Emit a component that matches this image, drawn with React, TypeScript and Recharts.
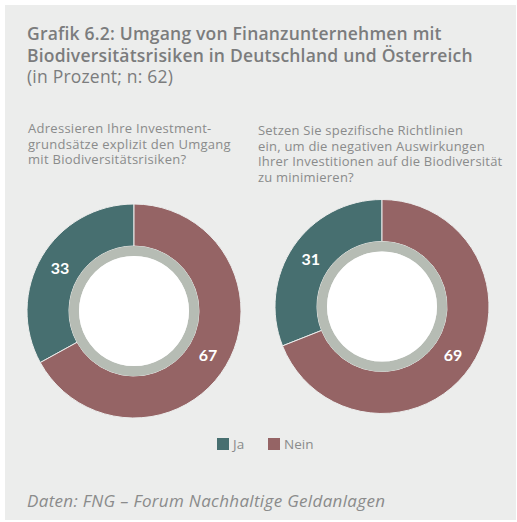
import { PieChart, Pie, Cell, Legend } from 'recharts';

const categories = ['Ja', 'Nein'];
const investmentValues = [33, 67];
const guidelineValues = [31, 69];
const colors = ['#476f70', '#956465'];

const titleLines = [
  'Grafik 6.2: Umgang von Finanzunternehmen mit',
  'Biodiversitätsrisiken in Deutschland und Österreich',
];
const subtitle = '(in Prozent; n: 62)';
const questionLeft = ['Adressieren Ihre Investment-', 'grundsätze explizit den Umgang', 'mit Biodiversitätsrisiken?'];
const questionRight = [
  'Setzen Sie spezifische Richtlinien',
  'ein, um die negativen Auswirkungen',
  'Ihrer Investitionen auf die Biodiversität',
  'zu minimieren?',
];
const source = 'Daten: FNG – Forum Nachhaltige Geldanlagen';

const investmentData = categories.map((name, i) => ({ name, value: investmentValues[i] }));
const guidelineData = categories.map((name, i) => ({ name, value: guidelineValues[i] }));
const ring = [{ name: 'ring', value: 1 }];

const FONT = '"Open Sans", Lato, sans-serif';
const TEXT = '#8a8b8b';
const RADIAN = Math.PI / 180;

const renderLabel = (props: any) => {
  const { cx, cy, midAngle, innerRadius, outerRadius, value } = props;
  const r = (innerRadius + outerRadius) / 2;
  const x = cx + r * Math.cos(-midAngle * RADIAN);
  const y = cy + r * Math.sin(-midAngle * RADIAN);
  return (
    <text x={x} y={y} fill="#ffffff" textAnchor="middle" dominantBaseline="central" fontSize={16} fontWeight={700} fontFamily="Lato, sans-serif">
      {value}
    </text>
  );
};

const renderLegend = () => (
  <div style={{ display: 'flex', paddingLeft: 217, fontFamily: FONT, fontSize: 13.5, color: TEXT, lineHeight: '16px' }}>
    {categories.map((c, i) => (
      <div key={c} style={{ display: 'flex', alignItems: 'center', width: i === 0 ? 51 : 'auto' }}>
        <span style={{ width: 12, height: 12, background: colors[i], display: 'inline-block', marginRight: 4 }} />
        <span>{c}</span>
      </div>
    ))}
  </div>
);

export default function App() {
  const donuts = [
    { data: investmentData, cx: 134, cy: 311 },
    { data: guidelineData, cx: 382, cy: 306.5 },
  ];
  return (
    <div style={{ position: 'absolute', left: 0, top: 0, width: 517, height: 522, background: '#ffffff' }}>
      <div style={{ position: 'absolute', left: 5, top: 5, width: 511, height: 515, background: '#ecedec' }} />
      <PieChart width={517} height={522} margin={{ top: 0, right: 0, bottom: 0, left: 0 }} style={{ position: 'absolute', left: 0, top: 0 }}>
        {donuts.map((d, k) => (
          <Pie
            key={'d' + k}
            data={d.data}
            dataKey="value"
            nameKey="name"
            cx={d.cx}
            cy={d.cy}
            innerRadius={65}
            outerRadius={107}
            startAngle={90}
            endAngle={450}
            stroke="#ecedec"
            strokeWidth={1}
            label={renderLabel}
            labelLine={false}
            isAnimationActive={false}
          >
            {d.data.map((e, i) => (
              <Cell key={e.name} fill={colors[i]} />
            ))}
          </Pie>
        ))}
        {donuts.map((d, k) => (
          <Pie
            key={'r' + k}
            data={ring}
            dataKey="value"
            cx={d.cx}
            cy={d.cy}
            innerRadius={55}
            outerRadius={65}
            stroke="none"
            isAnimationActive={false}
          >
            <Cell fill="#b6bcb4" />
          </Pie>
        ))}
        {donuts.map((d, k) => (
          <Pie
            key={'w' + k}
            data={ring}
            dataKey="value"
            cx={d.cx}
            cy={d.cy}
            innerRadius={0}
            outerRadius={55}
            stroke="none"
            isAnimationActive={false}
          >
            <Cell fill="#ffffff" />
          </Pie>
        ))}
        <Legend content={renderLegend} wrapperStyle={{ position: 'absolute', top: 436, left: 0, width: 517, bottom: 'auto' }} />
      </PieChart>
      <div style={{ position: 'absolute', left: 27, top: 22, fontFamily: FONT, color: '#7b7c7d', fontSize: 17.5, lineHeight: '22px', letterSpacing: 0.2, whiteSpace: 'nowrap' }}>
        {titleLines.map((t) => (
          <div key={t} style={{ fontWeight: 600 }}>{t}</div>
        ))}
        <div style={{ lineHeight: '21px' }}>{subtitle}</div>
      </div>
      <div style={{ position: 'absolute', left: 28, top: 121, fontFamily: FONT, color: TEXT, fontSize: 13, lineHeight: '15.5px', letterSpacing: 0.28, whiteSpace: 'nowrap' }}>
        {questionLeft.map((t) => (
          <div key={t}>{t}</div>
        ))}
      </div>
      <div style={{ position: 'absolute', left: 258, top: 123, fontFamily: FONT, color: TEXT, fontSize: 13, lineHeight: '15.5px', letterSpacing: 0.22, whiteSpace: 'nowrap' }}>
        {questionRight.map((t) => (
          <div key={t}>{t}</div>
        ))}
      </div>
      <div style={{ position: 'absolute', left: 27, top: 489, fontFamily: FONT, color: TEXT, fontSize: 17, fontStyle: 'italic', letterSpacing: 0.33, whiteSpace: 'nowrap' }}>
        {source}
      </div>
    </div>
  );
}
